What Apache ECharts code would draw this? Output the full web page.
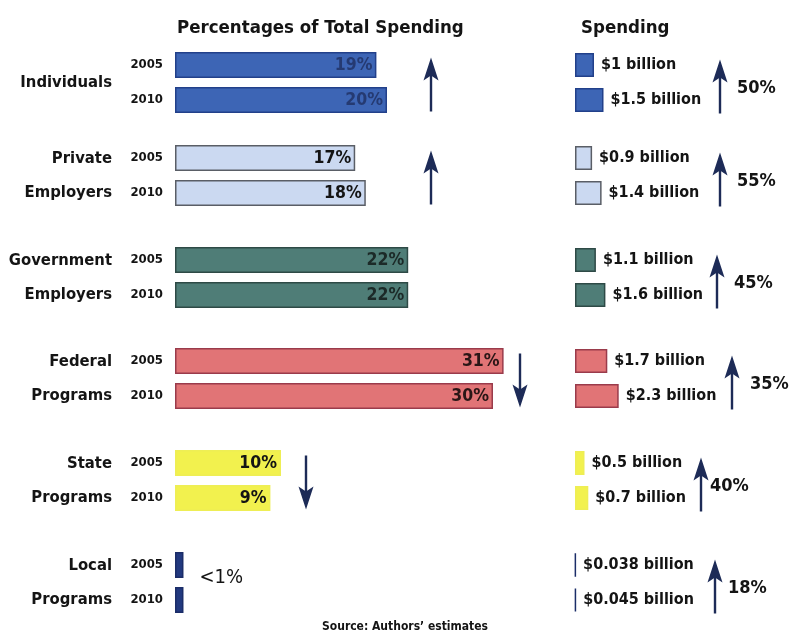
<!DOCTYPE html>
<html>
<head>
<meta charset="utf-8">
<script src="https://cdn.jsdelivr.net/npm/echarts@6/dist/echarts.min.js"></script>
<style>
  html, body { margin: 0; padding: 0; background: #ffffff; }
  #chart { width: 799px; height: 632px; }
</style>
</head>
<body>
<div id="chart"></div>
<script>
// ---- data ----
const groups = ['Individuals', 'Private\nEmployers', 'Government\nEmployers', 'Federal\nPrograms', 'State\nPrograms', 'Local\nPrograms'];
const years = ['2005', '2010'];
const share2005 = [19, 17, 22, 31, 10, 0.8];   // % of total spending
const share2010 = [20, 18, 22, 30, 9, 0.8];
const shareNote = [null, null, null, null, null, '<1%'];
const spend2005 = [1, 0.9, 1.1, 1.7, 0.5, 0.038]; // $ billion
const spend2010 = [1.5, 1.4, 1.6, 2.3, 0.7, 0.045];
const spendChange = [50, 55, 45, 35, 40, 18];      // % growth 2005 -> 2010

// ---- styles & layout ----
const FONT = '"DejaVu Sans Condensed", "Liberation Sans Narrow", "Arial Narrow", sans-serif';
const INK = '#141414';
const ARROW = '#1d2b57';
const fills   = ['#3d65b5', '#cbd9f1', '#4f7d77', '#e17476', '#f2f14e', '#22397f'];
const borders = ['#22408a', '#5a5e66', '#2e4a46', '#9a3b4b', '#eeee55', '#1b2d68'];
const pctInk  = ['#253a72', INK, '#1c2a28', '#2a1616', INK, INK];

const ROW = 35;                                  // height of one year row
const barTops = [52, 145, 247, 348, 450, 552];   // top edge of each 2005 bar
const gridTops = barTops.map(t => t - (ROW - 26) / 2);
const LEFT_X = 175, LEFT_W = 371, LEFT_MAX = 35;   // share panel
const RIGHT_X = 575, RIGHT_W = 190, RIGHT_MAX = 10; // spending panel
const leftArrowX = [431, 431, 0, 520, 306, 0];
const rightArrowX = [720, 720, 717, 732, 701, 715];
const changeTextX = [737, 737, 734, 750, 710, 728];

const grid = [], xAxis = [], yAxis = [], series = [], graphic = [];

groups.forEach((name, i) => {
  const top = gridTops[i];
  // share panel
  grid.push({ left: LEFT_X, top: top, width: LEFT_W, height: ROW * 2,
              containLabel: false, outerBoundsMode: 'none' });
  xAxis.push({ gridIndex: grid.length - 1, type: 'value', min: 0, max: LEFT_MAX, show: false });
  yAxis.push({
    gridIndex: grid.length - 1, type: 'category', data: years, inverse: true,
    axisLine: { show: false }, axisTick: { show: false }, splitLine: { show: false },
    axisLabel: { margin: 12, fontSize: 13, fontWeight: 'bold', color: INK, fontFamily: FONT },
    name: name, nameLocation: 'middle', nameRotate: 0, nameGap: 63,
    nameTextStyle: { align: 'right', verticalAlign: 'middle', fontSize: 16.5, fontWeight: 'bold',
                     lineHeight: 34, color: INK, fontFamily: FONT }
  });
  const note = shareNote[i];
  const pctLabel = {
    show: true, position: 'insideRight', distance: 4,
    formatter: '{c}%', fontSize: 17.5, fontWeight: 'bold', color: pctInk[i], fontFamily: FONT
  };
  series.push({
    type: 'bar', xAxisIndex: xAxis.length - 1, yAxisIndex: yAxis.length - 1,
    barWidth: 26, silent: true,
    itemStyle: { color: fills[i], borderColor: borders[i], borderWidth: 1.5 },
    data: [
      { value: share2005[i], label: note ? { show: true, position: 'right', distance: 16, offset: [0, 13],
          formatter: note, fontSize: 20, color: INK, fontFamily: FONT } : pctLabel },
      { value: share2010[i], label: note ? { show: false } : pctLabel }
    ]
  });

  // spending panel
  grid.push({ left: RIGHT_X, top: top, width: RIGHT_W, height: ROW * 2,
              containLabel: false, outerBoundsMode: 'none' });
  xAxis.push({ gridIndex: grid.length - 1, type: 'value', min: 0, max: RIGHT_MAX, show: false });
  yAxis.push({ gridIndex: grid.length - 1, type: 'category', data: years, inverse: true, show: false });
  series.push({
    type: 'bar', xAxisIndex: xAxis.length - 1, yAxisIndex: yAxis.length - 1,
    barWidth: 24, silent: true,
    itemStyle: { color: fills[i], borderColor: borders[i], borderWidth: 1.5 },
    label: {
      show: true, position: 'right', distance: 7,
      formatter: p => '$' + p.value + ' billion',
      fontSize: 16, fontWeight: 'bold', color: INK, fontFamily: FONT
    },
    data: [spend2005[i], spend2010[i]]
  });

  // trend arrows
  const mid = top + ROW;
  const arrow = (x, cy, up) => ({
    type: 'group', x: x, y: cy, rotation: up ? 0 : Math.PI, silent: true,
    children: [
      { type: 'line', shape: { x1: 0, y1: -12, x2: 0, y2: 27 }, style: { stroke: ARROW, lineWidth: 2.4 } },
      { type: 'polygon', shape: { points: [[0, -27], [7.5, -4], [0, -9], [-7.5, -4]] }, style: { fill: ARROW } }
    ]
  });
  if (share2010[i] !== share2005[i] && leftArrowX[i]) {
    graphic.push(arrow(leftArrowX[i], mid + 2, share2010[i] > share2005[i]));
  }
  graphic.push(arrow(rightArrowX[i], mid + 4, spend2010[i] > spend2005[i]));
  graphic.push({
    type: 'text', x: changeTextX[i], y: mid + 6, silent: true,
    style: { text: spendChange[i] + '%', fill: INK, fontSize: 18, fontWeight: 'bold',
             fontFamily: FONT, verticalAlign: 'middle', align: 'left' }
  });
});

const chart = echarts.init(document.getElementById('chart'), null, { renderer: 'canvas' });
chart.setOption({
  animation: false,
  backgroundColor: '#ffffff',
  title: [
    { text: 'Percentages of Total Spending', left: 172, top: 14,
      textStyle: { fontSize: 18.5, fontWeight: 'bold', color: INK, fontFamily: FONT } },
    { text: 'Spending', left: 576, top: 14,
      textStyle: { fontSize: 18.5, fontWeight: 'bold', color: INK, fontFamily: FONT } },
    { text: 'Source: Authors\u2019 estimates', left: 317, top: 616,
      textStyle: { fontSize: 12, fontWeight: 'bold', color: INK, fontFamily: FONT } }
  ],
  grid: grid,
  xAxis: xAxis,
  yAxis: yAxis,
  series: series,
  graphic: graphic
});
</script>
</body>
</html>
